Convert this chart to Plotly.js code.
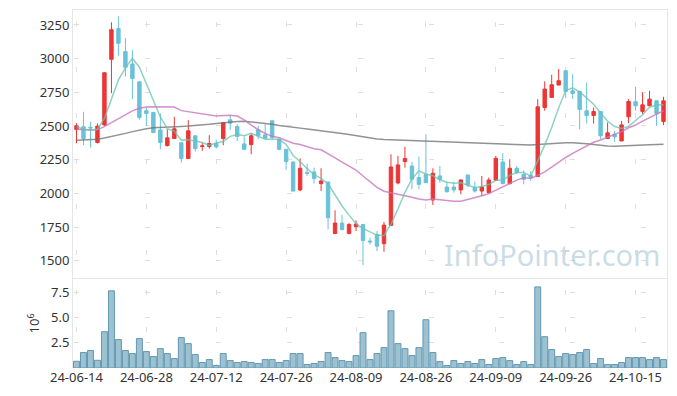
<!DOCTYPE html>
<html>
<head>
<meta charset="utf-8">
<script src="https://cdn.plot.ly/plotly-3.0.1.min.js"></script>
<style>html,body{margin:0;padding:0;background:#fff;}#chart{width:677px;height:396px;}</style>
</head>
<body>
<div id="chart"></div>
<script>
const dates = ['24-06-14','24-06-17','24-06-18','24-06-19','24-06-20','24-06-21','24-06-24','24-06-25','24-06-26','24-06-27',
'24-06-28','24-07-01','24-07-02','24-07-03','24-07-04','24-07-05','24-07-08','24-07-09','24-07-10','24-07-11',
'24-07-12','24-07-15','24-07-16','24-07-17','24-07-18','24-07-19','24-07-22','24-07-23','24-07-24','24-07-25',
'24-07-26','24-07-29','24-07-30','24-07-31','24-08-01','24-08-02','24-08-05','24-08-06','24-08-07','24-08-08',
'24-08-09','24-08-12','24-08-13','24-08-14','24-08-16','24-08-19','24-08-20','24-08-21','24-08-22','24-08-23',
'24-08-26','24-08-27','24-08-28','24-08-29','24-08-30','24-09-02','24-09-03','24-09-04','24-09-05','24-09-06',
'24-09-09','24-09-10','24-09-11','24-09-12','24-09-13','24-09-19','24-09-20','24-09-23','24-09-24','24-09-25',
'24-09-26','24-09-27','24-09-30','24-10-02','24-10-04','24-10-07','24-10-08','24-10-10','24-10-11','24-10-14',
'24-10-15','24-10-16','24-10-17','24-10-18','24-10-21'];

const openP = [2473,2494,2490,2377,2508,2995,3223,3052,2960,2828,
2613,2600,2471,2355,2407,2375,2258,2427,2347,2347,
2370,2407,2546,2496,2367,2362,2471,2434,2538,2402,
2327,2233,2025,2154,2159,2072,2084,1702,1779,1702,
1752,1769,1646,1695,1626,1762,2077,2236,2203,2117,
2141,1950,2129,2047,2047,2025,2136,2042,2017,2005,
2097,2233,2072,2186,2141,2134,2124,2637,2712,2804,
2910,2761,2756,2613,2578,2608,2407,2439,2389,2568,
2680,2608,2650,2687,2533];

const highP = [2521,2605,2531,2519,2900,3270,3314,3153,3064,2830,
2637,2602,2593,2476,2568,2377,2543,2429,2377,2432,
2399,2528,2580,2513,2422,2444,2501,2513,2546,2404,
2329,2235,2260,2221,2191,2186,2086,1874,1839,1779,
1799,1771,1670,1720,1787,2290,2278,2347,2233,2273,
2439,2186,2203,2087,2087,2104,2138,2087,2129,2117,
2278,2298,2253,2203,2171,2166,2699,2831,2880,2923,
2912,2885,2761,2823,2637,2610,2526,2464,2538,2699,
2791,2749,2761,2689,2717];

const lowP = [2372,2357,2340,2370,2500,2744,3022,2868,2699,2546,
2501,2446,2327,2347,2405,2228,2258,2310,2315,2332,
2332,2357,2471,2389,2320,2290,2402,2402,2397,2320,
2174,2015,2017,2129,2074,2017,1732,1700,1728,1695,
1720,1467,1621,1571,1566,1760,2067,2191,2030,2030,
2077,1913,2079,2005,2005,1993,2047,2005,1980,1998,
2092,2067,2067,2141,2067,2092,2122,2613,2710,2802,
2707,2699,2476,2518,2518,2402,2405,2382,2387,2521,
2613,2588,2648,2501,2506];

const closeP = [2501,2407,2485,2499,2895,3215,3114,2935,2853,2563,
2593,2451,2377,2412,2479,2258,2464,2332,2352,2370,
2345,2526,2521,2422,2327,2427,2427,2409,2414,2327,
2236,2017,2186,2149,2109,2092,1819,1779,1730,1769,
1772,1650,1640,1608,1764,2196,2211,2258,2104,2067,
2079,2149,2104,2012,2025,2099,2062,2017,2047,2099,
2260,2072,2186,2154,2104,2117,2642,2774,2806,2836,
2756,2742,2623,2578,2608,2427,2449,2419,2508,2682,
2650,2657,2699,2593,2687];

// volume, millions of shares
const volumeM = [0.67,1.54,1.74,0.77,3.62,7.69,2.83,1.74,1.44,2.93,
1.64,1.14,1.93,1.44,0.94,3.03,2.43,1.34,0.55,0.84,
0.25,1.44,0.74,0.55,0.64,0.55,0.45,0.84,0.84,0.55,
0.74,1.44,1.44,0.35,0.45,0.64,1.54,1.04,0.74,0.64,
1.24,3.52,0.84,1.44,2.03,5.70,2.43,1.93,1.24,2.03,
4.81,1.54,0.64,0.25,0.74,0.45,0.64,0.45,0.84,0.35,
0.94,1.04,0.74,0.35,0.64,0.35,8.08,3.12,1.84,1.14,
1.44,1.34,1.54,1.84,0.45,0.94,0.35,0.35,0.55,1.04,
1.04,1.04,0.84,1.04,0.84];

const ma5 = [2496,2476,2471,2476,2557,2700,2842,2932,3002,2936,
2812,2679,2567,2479,2462,2395,2398,2389,2377,2355,
2373,2385,2423,2437,2428,2445,2425,2402,2401,2401,
2363,2281,2236,2183,2139,2111,2071,1990,1906,1838,
1774,1740,1712,1688,1687,1772,1884,2007,2107,2167,
2144,2131,2101,2082,2074,2078,2060,2043,2050,2065,
2097,2099,2133,2154,2155,2127,2241,2358,2489,2635,
2763,2783,2753,2707,2661,2596,2537,2496,2482,2497,
2542,2583,2639,2656,2657];

const ma20 = [2476,2472,2470,2473,2495,2525,2555,2582,2612,2632,
2640,2642,2642,2642,2640,2614,2605,2598,2590,2580,
2574,2578,2580,2574,2545,2506,2472,2445,2423,2412,
2394,2372,2363,2349,2331,2323,2290,2263,2232,2202,
2173,2129,2085,2044,2016,2005,1994,1986,1971,1958,
1950,1957,1952,1946,1941,1942,1954,1966,1982,1998,
2023,2044,2071,2098,2115,2111,2133,2159,2194,2232,
2266,2296,2322,2350,2379,2396,2415,2435,2458,2487,
2507,2536,2562,2584,2613];

const ma60 = [2394,2395,2397,2402,2410,2420,2432,2445,2458,2470,
2480,2486,2490,2493,2496,2497,2499,2502,2506,2512,
2518,2524,2530,2534,2535,2530,2524,2518,2512,2504,
2496,2490,2484,2478,2472,2466,2459,2452,2444,2436,
2427,2418,2410,2404,2400,2398,2396,2394,2391,2388,
2385,2382,2379,2377,2375,2373,2371,2369,2367,2365,
2363,2362,2360,2358,2357,2358,2362,2366,2370,2373,
2375,2376,2374,2368,2362,2356,2352,2350,2351,2353,
2356,2358,2360,2362,2364];

const xTicks = ['24-06-14','24-06-28','24-07-12','24-07-26','24-08-09','24-08-26','24-09-09','24-09-26','24-10-15'];
const priceTicks = [1500,1750,2000,2250,2500,2750,3000,3250];
const volTicks = [2.5,5.0,7.5];

const UP = '#ee3535', DOWN = '#69c2d9';
const gridC = '#dedede';

const traces = [
  {type:'candlestick', x:dates, open:openP, high:highP, low:lowP, close:closeP,
   xaxis:'x', yaxis:'y',
   increasing:{line:{color:UP,width:1}, fillcolor:UP},
   decreasing:{line:{color:DOWN,width:1}, fillcolor:DOWN},
   whiskerwidth:0, showlegend:false, hoverinfo:'skip'},
  {type:'scatter', mode:'lines', x:dates, y:ma60, xaxis:'x', yaxis:'y',
   line:{color:'rgba(110,110,110,0.75)', width:1.5}, showlegend:false, hoverinfo:'skip'},
  {type:'scatter', mode:'lines', x:dates, y:ma20, xaxis:'x', yaxis:'y',
   line:{color:'rgba(200,118,190,0.8)', width:1.5}, showlegend:false, hoverinfo:'skip'},
  {type:'scatter', mode:'lines', x:dates, y:ma5, xaxis:'x', yaxis:'y',
   line:{color:'rgba(105,195,175,0.75)', width:1.5}, showlegend:false, hoverinfo:'skip'},
  {type:'bar', x:dates, y:volumeM, xaxis:'x2', yaxis:'y2',
   marker:{color:'rgba(145,187,205,0.9)', line:{color:'rgba(95,148,175,0.95)', width:1}},
   showlegend:false, hoverinfo:'skip'}
];

const tickFont = {family:'Noto Sans, Open Sans, sans-serif', size:13, color:'#333'};

const layout = {
  width:677, height:396,
  margin:{l:73, r:10, t:10, b:28},
  paper_bgcolor:'#fff', plot_bgcolor:'#fff',
  bargap:0.15,
  xaxis:{type:'category', domain:[0,1], anchor:'y', range:[-0.5,84.5],
    tickvals:xTicks, showticklabels:false, ticks:'',
    showgrid:true, gridcolor:gridC, gridwidth:1, griddash:'0px,11.8px,5px,28.8px',
    showline:true, linecolor:'#e6e6e6', linewidth:1, mirror:true,
    rangeslider:{visible:false}, fixedrange:true},
  yaxis:{domain:[0.2505,1], anchor:'x', range:[1369,3361],
    tickvals:priceTicks, ticks:'', tickfont:tickFont,
    showgrid:true, gridcolor:gridC, gridwidth:1, griddash:'0px,1px,5px,64.9px',
    zeroline:false, showline:true, linecolor:'#e6e6e6', linewidth:1, mirror:true},
  xaxis2:{type:'category', domain:[0,1], anchor:'y2', matches:'x', range:[-0.5,84.5],
    tickvals:xTicks, ticktext:xTicks, ticks:'', tickfont:tickFont,
    showgrid:true, gridcolor:gridC, gridwidth:1, griddash:'0px,11.5px,5px,20.2px',
    showline:false, rangeslider:{visible:false}},
  yaxis2:{domain:[0,0.249], anchor:'x2', range:[0,8.88],
    tickvals:volTicks, tickformat:'.1f', ticks:'', tickfont:tickFont,
    showgrid:true, gridcolor:gridC, gridwidth:1, griddash:'0px,1px,5px,64.9px',
    zeroline:false, showline:true, linecolor:'#e6e6e6', linewidth:1, mirror:true,
    title:{text:'10<sup>6</sup>', font:{family:'Noto Sans, sans-serif', size:13, color:'#333'}, standoff:8}},
  annotations:[{text:'InfoPointer.com', xref:'paper', yref:'paper', x:0.806, y:0.318,
    xanchor:'center', yanchor:'middle', showarrow:false,
    font:{family:'Noto Sans, Open Sans, sans-serif', size:29, color:'rgba(165,198,215,0.6)'}}]
};

Plotly.newPlot('chart', traces, layout, {staticPlot:true, displayModeBar:false});
</script>
</body>
</html>
